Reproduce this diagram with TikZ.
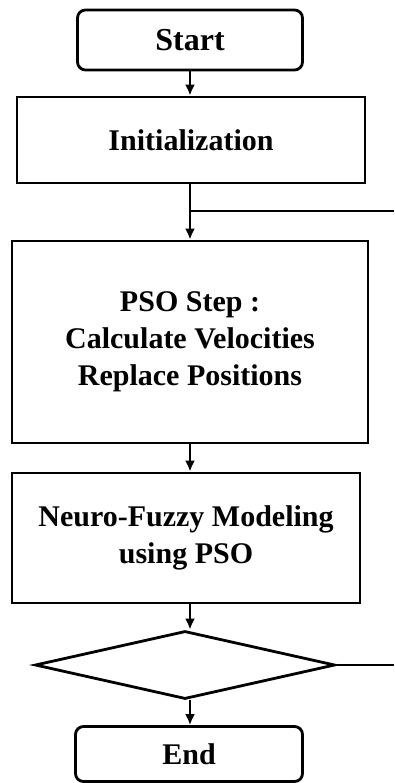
\documentclass[tikz,border=0pt]{standalone}
\usepackage{fontspec}
\setmainfont{Liberation Serif}
\usetikzlibrary{shapes.geometric,arrows.meta}

\tikzset{
    stepbox/.style={draw, line width=2.8pt, font=\fontsize{30}{37}\selectfont\bfseries, align=center, inner sep=0pt},
    termbox/.style={stepbox, rounded corners=8pt},
    decbox/.style={draw, line width=2.8pt, shape=diamond, inner sep=0pt},
    flow/.style={line width=2.8pt, -{Latex[length=11pt,width=10pt]}},
    back/.style={line width=2.8pt}
}

\begin{document}
\begin{tikzpicture}[x=1pt, y=-1pt]
    \useasboundingbox (0, 0) rectangle (394, 783);

    \node[termbox, minimum width=225pt, minimum height=60pt] (start) at (190, 40) {\fontsize{32}{37}\selectfont Start};
    \node[stepbox, minimum width=348pt, minimum height=86pt] (init) at (191, 140) {Initialization};
    \node[stepbox, minimum width=356pt, minimum height=202pt] (pso) at (190, 342) {PSO Step :\\Calculate Velocities\\Replace Positions};
    \node[stepbox, minimum width=348pt, minimum height=130pt] (nfm) at (186, 538) {Neuro-Fuzzy Modeling\\using PSO};
    \node[decbox, minimum width=300pt, minimum height=68pt] (stop) at (185, 665) {};
    \node[termbox, minimum width=227pt, minimum height=55pt] (end) at (189, 754) {End};

    %%%%%%%%%%%%%%%%%%%%%%%%%%%%%%%%%%%%%%%%%%%%%%%%%%%%%%

    \draw[flow] (start.south) -- (start.south |- init.north);
    \draw[flow] (start.south |- init.south) -- (start.south |- pso.north);
    \draw[flow] (start.south |- pso.south) -- (start.south |- nfm.north);
    \draw[flow] (start.south |- nfm.south) -- (start.south |- stop.north);
    \draw[flow] (start.south |- stop.south) -- (start.south |- end.north);

    %%%%%%%%%%%%%%%%%%%%%%%%%%%%%%%%%%%%%%%%%%%%%%%%%%%%%%

    \coordinate (loopin) at (394, 211);
    \coordinate (loopout) at (394, 665);
    \draw[back] (loopin) -- (loopin -| start.south);
    \draw[back] (stop.east) -- (loopout);
\end{tikzpicture}
\end{document}
